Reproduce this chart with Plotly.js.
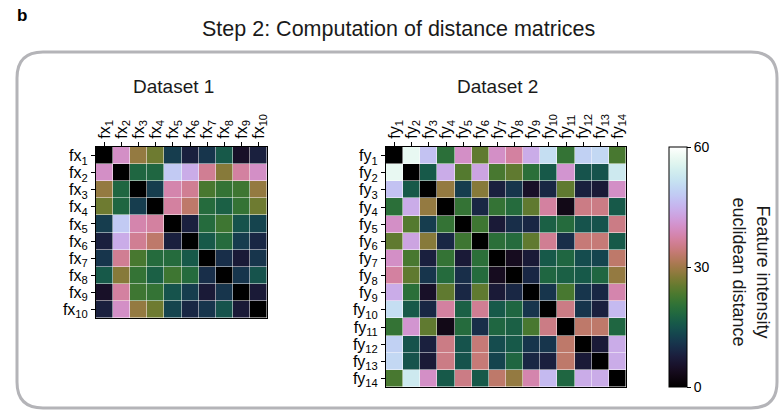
<!DOCTYPE html>
<html>
<head>
<meta charset="utf-8">
<script src="https://cdn.plot.ly/plotly-3.0.1.min.js"></script>
<style>html,body{margin:0;padding:0;background:#fff;}#chart{width:779px;height:410px;}</style>
</head>
<body>
<div id="chart"></div>
<script>
// ---- data ----
const fxLabels = ['fx<sub>1</sub>','fx<sub>2</sub>','fx<sub>3</sub>','fx<sub>4</sub>','fx<sub>5</sub>','fx<sub>6</sub>','fx<sub>7</sub>','fx<sub>8</sub>','fx<sub>9</sub>','fx<sub>10</sub>'];
const fyLabels = ['fy<sub>1</sub>','fy<sub>2</sub>','fy<sub>3</sub>','fy<sub>4</sub>','fy<sub>5</sub>','fy<sub>6</sub>','fy<sub>7</sub>','fy<sub>8</sub>','fy<sub>9</sub>','fy<sub>10</sub>','fy<sub>11</sub>','fy<sub>12</sub>','fy<sub>13</sub>','fy<sub>14</sub>'];

const dist1 = [
  [0, 40, 29, 26, 12, 8, 11, 16, 5, 8],
  [40, 0, 18, 18, 48, 44, 36, 28, 37, 40],
  [29, 18, 0, 12, 38, 36, 23, 21, 22, 29],
  [26, 18, 12, 0, 37, 33, 19, 17, 21, 26],
  [12, 48, 38, 37, 0, 8, 19, 22, 15, 13],
  [8, 44, 36, 33, 8, 0, 16, 19, 12, 9],
  [11, 36, 23, 19, 19, 16, 0, 10, 7, 11],
  [16, 28, 21, 17, 22, 19, 10, 0, 11, 15],
  [5, 37, 22, 21, 15, 12, 7, 11, 0, 7],
  [8, 40, 29, 26, 13, 9, 11, 15, 7, 0]
];

const dist2 = [
  [0, 57, 47, 20, 40, 25, 40, 37, 44, 51, 21, 49, 50, 23],
  [57, 0, 16, 44, 24, 43, 23, 25, 20, 16, 41, 15, 15, 53],
  [47, 16, 0, 29, 12, 28, 8, 11, 5, 9, 25, 8, 7, 40],
  [20, 44, 29, 0, 21, 9, 21, 19, 25, 37, 3, 35, 35, 16],
  [40, 24, 12, 21, 0, 22, 7, 10, 9, 17, 19, 15, 15, 35],
  [25, 43, 28, 9, 22, 0, 20, 19, 25, 36, 10, 34, 34, 16],
  [40, 23, 8, 21, 7, 20, 0, 4, 7, 16, 18, 14, 13, 33],
  [37, 25, 11, 19, 10, 19, 4, 0, 9, 18, 17, 16, 18, 29],
  [44, 20, 5, 25, 9, 25, 7, 9, 0, 11, 23, 11, 9, 38],
  [51, 16, 9, 37, 17, 36, 16, 18, 11, 0, 35, 11, 8, 46],
  [21, 41, 25, 3, 19, 10, 18, 17, 23, 35, 0, 33, 33, 18],
  [49, 15, 8, 35, 15, 34, 14, 16, 11, 11, 33, 0, 7, 44],
  [50, 15, 7, 35, 15, 34, 13, 18, 9, 8, 33, 7, 0, 44],
  [23, 53, 40, 16, 35, 16, 33, 29, 38, 46, 18, 44, 44, 0]
];

const cbTicks = [0, 30, 60];

// ---- cubehelix colorscale (matplotlib defaults) ----
function cubehelix(x){
  const gamma=1, s=0.5, r=-1.5, h=1.0;
  const xg = Math.pow(x, gamma);
  const a = h*xg*(1-xg)/2;
  const phi = 2*Math.PI*(s/3 + r*x);
  const c = (p0,p1)=> Math.min(1, Math.max(0, xg + a*(p0*Math.cos(phi)+p1*Math.sin(phi))));
  const R = c(-0.14861, 1.78277), G = c(-0.29227, -0.90649), B = c(1.97294, 0);
  return 'rgb('+Math.round(R*255)+','+Math.round(G*255)+','+Math.round(B*255)+')';
}
const cs = [];
for (let i=0;i<=64;i++){ cs.push([i/64, cubehelix(i/64)]); }

// ---- geometry helpers (pixel -> paper) ----
const W=779, H=410;
const px = v => v/W;
const py = v => 1 - v/H;

const FONT = 'Liberation Sans, Arial, Helvetica, sans-serif';

const traces = [
  {type:'heatmap', x:fxLabels, y:fxLabels, z:dist1, coloraxis:'coloraxis', xaxis:'x', yaxis:'y', xgap:0.5, ygap:0.5, hoverinfo:'skip'},
  {type:'heatmap', x:fyLabels, y:fyLabels, z:dist2, coloraxis:'coloraxis', xaxis:'x2', yaxis:'y2', xgap:0.5, ygap:0.5, hoverinfo:'skip'}
];

const axBase = {
  type:'category', showline:true, mirror:true, linecolor:'#000', linewidth:1,
  tickmode:'linear', tick0:0, dtick:1,
  ticks:'outside', ticklen:4, tickcolor:'#000', showgrid:false, zeroline:false,
  tickfont:{family:FONT, size:16, color:'#000'}, fixedrange:true
};

// rounded box
function roundedBox(l,t,r,b,rad){
  const P=(x,y)=>px(x)+','+py(y);
  return 'M'+P(l+rad,t)+' L'+P(r-rad,t)+' Q'+P(r,t)+' '+P(r,t+rad)+
         ' L'+P(r,b-rad)+' Q'+P(r,b)+' '+P(r-rad,b)+
         ' L'+P(l+rad,b)+' Q'+P(l,b)+' '+P(l,b-rad)+
         ' L'+P(l,t+rad)+' Q'+P(l,t)+' '+P(l+rad,t)+' Z';
}

const layout = {
  width:W, height:H, margin:{l:0,r:0,t:0,b:0},
  paper_bgcolor:'#fff', plot_bgcolor:'#fff', showlegend:false,
  font:{family:FONT, color:'#000'},
  xaxis: Object.assign({}, axBase, {domain:[px(96), px(267)], anchor:'y', side:'top', tickangle:-90}),
  yaxis: Object.assign({}, axBase, {domain:[py(318), py(147)], anchor:'x', autorange:'reversed'}),
  xaxis2: Object.assign({}, axBase, {domain:[px(386), px(626)], anchor:'y2', side:'top', tickangle:-90}),
  yaxis2: Object.assign({}, axBase, {domain:[py(387), py(147)], anchor:'x2', autorange:'reversed'}),
  coloraxis:{
    cmin:0, cmax:60, colorscale:cs,
    colorbar:{
      x:px(669), xanchor:'left', xpad:0, ypad:0,
      y:py(387), yanchor:'bottom', len:240, lenmode:'pixels',
      thickness:18, thicknessmode:'pixels',
      outlinewidth:1, outlinecolor:'#000',
      tickvals:cbTicks, ticktext:cbTicks.map(String),
      ticks:'outside', ticklen:4, tickcolor:'#000',
      tickfont:{family:FONT, size:14, color:'#000'}
    }
  },
  shapes:[
    {type:'path', xref:'paper', yref:'paper', path:roundedBox(17,52,777,408,26), line:{color:'#b4b4b8', width:3}, fillcolor:'rgba(0,0,0,0)'}
  ],
  annotations:[
    {text:'<b>b</b>', xref:'paper', yref:'paper', x:px(15), y:py(15), xanchor:'left', yanchor:'middle', showarrow:false, font:{family:FONT, size:17, color:'#000'}},
    {text:'Step 2: Computation of distance matrices', xref:'paper', yref:'paper', x:px(398.5), y:py(29), xanchor:'center', yanchor:'middle', showarrow:false, font:{family:FONT, size:21.5, color:'#1a1a1a'}},
    {text:'Dataset 1', xref:'paper', yref:'paper', x:px(173.5), y:py(87), xanchor:'center', yanchor:'middle', showarrow:false, font:{family:FONT, size:19, color:'#1a1a1a'}},
    {text:'Dataset 2', xref:'paper', yref:'paper', x:px(497), y:py(87), xanchor:'center', yanchor:'middle', showarrow:false, font:{family:FONT, size:19, color:'#1a1a1a'}},
    {text:'Feature intensity<br>euclidean distance', xref:'paper', yref:'paper', x:px(751.5), y:py(272), xanchor:'center', yanchor:'middle', textangle:90, showarrow:false, font:{family:FONT, size:18, color:'#1a1a1a'}}
  ]
};

Plotly.newPlot('chart', traces, layout, {displayModeBar:false, staticPlot:true});
</script>
</body>
</html>
